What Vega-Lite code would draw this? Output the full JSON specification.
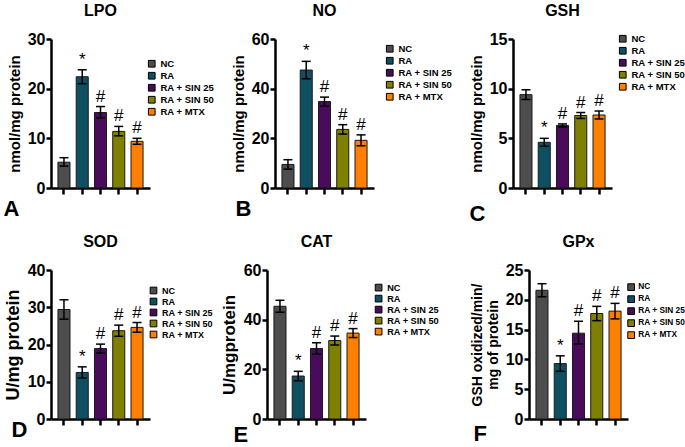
{
  "$schema": "https://vega.github.io/schema/vega-lite/v6.json",
  "padding": {"left": 3, "top": 3, "right": 0, "bottom": 0},
  "datasets": {
    "d": [
      {"panel": "LPO", "group": "NC", "mean": 5.2, "lo": 4.4, "hi": 6.1, "sig": ""},
      {"panel": "LPO", "group": "RA", "mean": 22.4, "lo": 21.0, "hi": 23.8, "sig": "*"},
      {"panel": "LPO", "group": "RA + SIN 25", "mean": 15.2, "lo": 14.1, "hi": 16.4, "sig": "#"},
      {"panel": "LPO", "group": "RA + SIN 50", "mean": 11.4, "lo": 10.5, "hi": 12.4, "sig": "#"},
      {"panel": "LPO", "group": "RA + MTX", "mean": 9.4, "lo": 8.8, "hi": 10.0, "sig": "#"},
      {"panel": "NO", "group": "NC", "mean": 9.5, "lo": 7.6, "hi": 11.4, "sig": ""},
      {"panel": "NO", "group": "RA", "mean": 47.5, "lo": 44.0, "hi": 51.0, "sig": "*"},
      {"panel": "NO", "group": "RA + SIN 25", "mean": 34.8, "lo": 33.0, "hi": 36.6, "sig": "#"},
      {"panel": "NO", "group": "RA + SIN 50", "mean": 23.6, "lo": 21.7, "hi": 25.5, "sig": "#"},
      {"panel": "NO", "group": "RA + MTX", "mean": 19.2, "lo": 17.0, "hi": 21.4, "sig": "#"},
      {"panel": "GSH", "group": "NC", "mean": 9.4, "lo": 8.9, "hi": 9.9, "sig": ""},
      {"panel": "GSH", "group": "RA", "mean": 4.6, "lo": 4.2, "hi": 5.0, "sig": "*"},
      {"panel": "GSH", "group": "RA + SIN 25", "mean": 6.3, "lo": 6.15, "hi": 6.45, "sig": "#"},
      {"panel": "GSH", "group": "RA + SIN 50", "mean": 7.3, "lo": 7.0, "hi": 7.6, "sig": "#"},
      {"panel": "GSH", "group": "RA + MTX", "mean": 7.35, "lo": 6.95, "hi": 7.75, "sig": "#"},
      {"panel": "SOD", "group": "NC", "mean": 29.4, "lo": 26.8, "hi": 32.0, "sig": ""},
      {"panel": "SOD", "group": "RA", "mean": 12.5, "lo": 11.0, "hi": 14.0, "sig": "*"},
      {"panel": "SOD", "group": "RA + SIN 25", "mean": 18.9, "lo": 17.7, "hi": 20.1, "sig": "#"},
      {"panel": "SOD", "group": "RA + SIN 50", "mean": 23.7, "lo": 22.2, "hi": 25.2, "sig": "#"},
      {"panel": "SOD", "group": "RA + MTX", "mean": 24.6, "lo": 23.3, "hi": 25.9, "sig": "#"},
      {"panel": "CAT", "group": "NC", "mean": 45.4, "lo": 43.0, "hi": 47.8, "sig": ""},
      {"panel": "CAT", "group": "RA", "mean": 17.3, "lo": 15.4, "hi": 19.2, "sig": "*"},
      {"panel": "CAT", "group": "RA + SIN 25", "mean": 28.4, "lo": 26.1, "hi": 30.7, "sig": "#"},
      {"panel": "CAT", "group": "RA + SIN 50", "mean": 31.6, "lo": 29.8, "hi": 33.4, "sig": "#"},
      {"panel": "CAT", "group": "RA + MTX", "mean": 34.6, "lo": 32.8, "hi": 36.4, "sig": "#"},
      {"panel": "GPx", "group": "NC", "mean": 21.6, "lo": 20.5, "hi": 22.7, "sig": ""},
      {"panel": "GPx", "group": "RA", "mean": 9.3, "lo": 8.0, "hi": 10.6, "sig": "*"},
      {"panel": "GPx", "group": "RA + SIN 25", "mean": 14.4, "lo": 12.6, "hi": 16.4, "sig": "#"},
      {"panel": "GPx", "group": "RA + SIN 50", "mean": 17.7, "lo": 16.5, "hi": 18.9, "sig": "#"},
      {"panel": "GPx", "group": "RA + MTX", "mean": 18.1, "lo": 16.8, "hi": 19.4, "sig": "#"}
    ]
  },
  "spacing": 10,
  "resolve": {"scale": {"color": "independent", "x": "independent", "y": "independent"}, "legend": {"color": "independent"}},
  "vconcat": [
    {
      "concat": [
        {
          "width": 99, "height": 149,
          "title": "LPO",
          "data": {"name": "d"},
          "transform": [{"filter": "datum.panel === 'LPO'"}],
          "encoding": {"x": {"field": "group", "type": "nominal", "sort": null, "scale": {"paddingInner": 0.34, "paddingOuter": 0.38}, "axis": {"title": "A", "titleX": -48, "titleY": 27}}},
          "layer": [
            {"mark": {"type": "bar", "stroke": "#1a1a1a", "strokeWidth": 1}, "encoding": {"y": {"field": "mean", "type": "quantitative", "scale": {"domain": [0, 30], "nice": false}, "axis": {"values": [0, 10, 20, 30], "title": "nmol/mg protein", "titleFontSize": 15}}, "color": {"field": "group", "type": "nominal", "sort": null, "scale": {"domain": ["NC", "RA", "RA + SIN 25", "RA + SIN 50", "RA + MTX"], "range": ["#4d4d4d", "#0e4f61", "#4a0b5c", "#7f7f00", "#ff8000"]}, "legend": {"title": null, "legendX": 96, "legendY": 20}}}},
            {"mark": {"type": "rule", "strokeWidth": 1.5, "color": "#000"}, "encoding": {"y": {"field": "lo", "type": "quantitative", "scale": {"domain": [0, 30], "nice": false}, "axis": {"values": [0, 10, 20, 30], "title": "nmol/mg protein", "titleFontSize": 15}}, "y2": {"field": "hi"}}},
            {"mark": {"type": "tick", "size": 9, "thickness": 1.5, "color": "#000", "opacity": 1}, "encoding": {"y": {"field": "lo", "type": "quantitative", "scale": {"domain": [0, 30], "nice": false}, "axis": {"values": [0, 10, 20, 30], "title": "nmol/mg protein", "titleFontSize": 15}}}},
            {"mark": {"type": "tick", "size": 9, "thickness": 1.5, "color": "#000", "opacity": 1}, "encoding": {"y": {"field": "hi", "type": "quantitative", "scale": {"domain": [0, 30], "nice": false}, "axis": {"values": [0, 10, 20, 30], "title": "nmol/mg protein", "titleFontSize": 15}}}},
            {"mark": {"type": "text", "fontSize": 17, "dy": -5, "baseline": "alphabetic", "font": "Liberation Sans", "color": "#000"}, "encoding": {"y": {"field": "hi", "type": "quantitative", "scale": {"domain": [0, 30], "nice": false}, "axis": {"values": [0, 10, 20, 30], "title": "nmol/mg protein", "titleFontSize": 15}}, "text": {"field": "sig"}}}
          ]
        },
        {
          "width": 99, "height": 149,
          "title": "NO",
          "data": {"name": "d"},
          "transform": [{"filter": "datum.panel === 'NO'"}],
          "encoding": {"x": {"field": "group", "type": "nominal", "sort": null, "scale": {"paddingInner": 0.34, "paddingOuter": 0.38}, "axis": {"title": "B", "titleX": -40, "titleY": 27}}},
          "layer": [
            {"mark": {"type": "bar", "stroke": "#1a1a1a", "strokeWidth": 1}, "encoding": {"y": {"field": "mean", "type": "quantitative", "scale": {"domain": [0, 60], "nice": false}, "axis": {"values": [0, 20, 40, 60], "title": "nmol/mg protein", "titleFontSize": 15}}, "color": {"field": "group", "type": "nominal", "sort": null, "scale": {"domain": ["NC", "RA", "RA + SIN 25", "RA + SIN 50", "RA + MTX"], "range": ["#4d4d4d", "#0e4f61", "#4a0b5c", "#7f7f00", "#ff8000"]}, "legend": {"title": null, "legendX": 110, "legendY": 5}}}},
            {"mark": {"type": "rule", "strokeWidth": 1.5, "color": "#000"}, "encoding": {"y": {"field": "lo", "type": "quantitative", "scale": {"domain": [0, 60], "nice": false}, "axis": {"values": [0, 20, 40, 60], "title": "nmol/mg protein", "titleFontSize": 15}}, "y2": {"field": "hi"}}},
            {"mark": {"type": "tick", "size": 9, "thickness": 1.5, "color": "#000", "opacity": 1}, "encoding": {"y": {"field": "lo", "type": "quantitative", "scale": {"domain": [0, 60], "nice": false}, "axis": {"values": [0, 20, 40, 60], "title": "nmol/mg protein", "titleFontSize": 15}}}},
            {"mark": {"type": "tick", "size": 9, "thickness": 1.5, "color": "#000", "opacity": 1}, "encoding": {"y": {"field": "hi", "type": "quantitative", "scale": {"domain": [0, 60], "nice": false}, "axis": {"values": [0, 20, 40, 60], "title": "nmol/mg protein", "titleFontSize": 15}}}},
            {"mark": {"type": "text", "fontSize": 17, "dy": -5, "baseline": "alphabetic", "font": "Liberation Sans", "color": "#000"}, "encoding": {"y": {"field": "hi", "type": "quantitative", "scale": {"domain": [0, 60], "nice": false}, "axis": {"values": [0, 20, 40, 60], "title": "nmol/mg protein", "titleFontSize": 15}}, "text": {"field": "sig"}}}
          ]
        },
        {
          "width": 99, "height": 149,
          "title": "GSH",
          "data": {"name": "d"},
          "transform": [{"filter": "datum.panel === 'GSH'"}],
          "encoding": {"x": {"field": "group", "type": "nominal", "sort": null, "scale": {"paddingInner": 0.34, "paddingOuter": 0.38}, "axis": {"title": "C", "titleX": -44, "titleY": 32}}},
          "layer": [
            {"mark": {"type": "bar", "stroke": "#1a1a1a", "strokeWidth": 1}, "encoding": {"y": {"field": "mean", "type": "quantitative", "scale": {"domain": [0, 15], "nice": false}, "axis": {"values": [0, 5, 10, 15], "title": "nmol/mg protein", "titleFontSize": 15}}, "color": {"field": "group", "type": "nominal", "sort": null, "scale": {"domain": ["NC", "RA", "RA + SIN 25", "RA + SIN 50", "RA + MTX"], "range": ["#4d4d4d", "#0e4f61", "#4a0b5c", "#7f7f00", "#ff8000"]}, "legend": {"title": null, "legendX": 105, "legendY": -5}}}},
            {"mark": {"type": "rule", "strokeWidth": 1.5, "color": "#000"}, "encoding": {"y": {"field": "lo", "type": "quantitative", "scale": {"domain": [0, 15], "nice": false}, "axis": {"values": [0, 5, 10, 15], "title": "nmol/mg protein", "titleFontSize": 15}}, "y2": {"field": "hi"}}},
            {"mark": {"type": "tick", "size": 9, "thickness": 1.5, "color": "#000", "opacity": 1}, "encoding": {"y": {"field": "lo", "type": "quantitative", "scale": {"domain": [0, 15], "nice": false}, "axis": {"values": [0, 5, 10, 15], "title": "nmol/mg protein", "titleFontSize": 15}}}},
            {"mark": {"type": "tick", "size": 9, "thickness": 1.5, "color": "#000", "opacity": 1}, "encoding": {"y": {"field": "hi", "type": "quantitative", "scale": {"domain": [0, 15], "nice": false}, "axis": {"values": [0, 5, 10, 15], "title": "nmol/mg protein", "titleFontSize": 15}}}},
            {"mark": {"type": "text", "fontSize": 17, "dy": -5, "baseline": "alphabetic", "font": "Liberation Sans", "color": "#000"}, "encoding": {"y": {"field": "hi", "type": "quantitative", "scale": {"domain": [0, 15], "nice": false}, "axis": {"values": [0, 5, 10, 15], "title": "nmol/mg protein", "titleFontSize": 15}}, "text": {"field": "sig"}}}
          ]
        }
      ],
      "columns": 3,
      "align": "none",
      "spacing": 16,
      "resolve": {"scale": {"color": "independent", "x": "independent", "y": "independent"}, "legend": {"color": "independent"}}
    },
    {
      "concat": [
        {
          "width": 99, "height": 149,
          "title": "SOD",
          "data": {"name": "d"},
          "transform": [{"filter": "datum.panel === 'SOD'"}],
          "encoding": {"x": {"field": "group", "type": "nominal", "sort": null, "scale": {"paddingInner": 0.34, "paddingOuter": 0.38}, "axis": {"title": "D", "titleX": -40, "titleY": 17}}},
          "layer": [
            {"mark": {"type": "bar", "stroke": "#1a1a1a", "strokeWidth": 1}, "encoding": {"y": {"field": "mean", "type": "quantitative", "scale": {"domain": [0, 40], "nice": false}, "axis": {"values": [0, 10, 20, 30, 40], "title": "U/mg protein", "titleFontSize": 18}}, "color": {"field": "group", "type": "nominal", "sort": null, "scale": {"domain": ["NC", "RA", "RA + SIN 25", "RA + SIN 50", "RA + MTX"], "range": ["#4d4d4d", "#0e4f61", "#4a0b5c", "#7f7f00", "#ff8000"]}, "legend": {"title": null, "legendX": 98, "legendY": 16, "labelFontSize": 9}}}},
            {"mark": {"type": "rule", "strokeWidth": 1.5, "color": "#000"}, "encoding": {"y": {"field": "lo", "type": "quantitative", "scale": {"domain": [0, 40], "nice": false}, "axis": {"values": [0, 10, 20, 30, 40], "title": "U/mg protein", "titleFontSize": 18}}, "y2": {"field": "hi"}}},
            {"mark": {"type": "tick", "size": 9, "thickness": 1.5, "color": "#000", "opacity": 1}, "encoding": {"y": {"field": "lo", "type": "quantitative", "scale": {"domain": [0, 40], "nice": false}, "axis": {"values": [0, 10, 20, 30, 40], "title": "U/mg protein", "titleFontSize": 18}}}},
            {"mark": {"type": "tick", "size": 9, "thickness": 1.5, "color": "#000", "opacity": 1}, "encoding": {"y": {"field": "hi", "type": "quantitative", "scale": {"domain": [0, 40], "nice": false}, "axis": {"values": [0, 10, 20, 30, 40], "title": "U/mg protein", "titleFontSize": 18}}}},
            {"mark": {"type": "text", "fontSize": 17, "dy": -5, "baseline": "alphabetic", "font": "Liberation Sans", "color": "#000"}, "encoding": {"y": {"field": "hi", "type": "quantitative", "scale": {"domain": [0, 40], "nice": false}, "axis": {"values": [0, 10, 20, 30, 40], "title": "U/mg protein", "titleFontSize": 18}}, "text": {"field": "sig"}}}
          ]
        },
        {
          "concat": [
            {
              "width": 99, "height": 149,
              "title": "CAT",
              "data": {"name": "d"},
              "transform": [{"filter": "datum.panel === 'CAT'"}],
              "encoding": {"x": {"field": "group", "type": "nominal", "sort": null, "scale": {"paddingInner": 0.34, "paddingOuter": 0.38}, "axis": {"title": "E", "titleX": -34, "titleY": 22}}},
              "layer": [
                {"mark": {"type": "bar", "stroke": "#1a1a1a", "strokeWidth": 1}, "encoding": {"y": {"field": "mean", "type": "quantitative", "scale": {"domain": [0, 60], "nice": false}, "axis": {"values": [0, 20, 40, 60], "title": "U/mgprotein", "titleFontSize": 17}}, "color": {"field": "group", "type": "nominal", "sort": null, "scale": {"domain": ["NC", "RA", "RA + SIN 25", "RA + SIN 50", "RA + MTX"], "range": ["#4d4d4d", "#0e4f61", "#4a0b5c", "#7f7f00", "#ff8000"]}, "legend": {"title": null, "legendX": 107, "legendY": 13, "labelFontSize": 9.2}}}},
                {"mark": {"type": "rule", "strokeWidth": 1.5, "color": "#000"}, "encoding": {"y": {"field": "lo", "type": "quantitative", "scale": {"domain": [0, 60], "nice": false}, "axis": {"values": [0, 20, 40, 60], "title": "U/mgprotein", "titleFontSize": 17}}, "y2": {"field": "hi"}}},
                {"mark": {"type": "tick", "size": 9, "thickness": 1.5, "color": "#000", "opacity": 1}, "encoding": {"y": {"field": "lo", "type": "quantitative", "scale": {"domain": [0, 60], "nice": false}, "axis": {"values": [0, 20, 40, 60], "title": "U/mgprotein", "titleFontSize": 17}}}},
                {"mark": {"type": "tick", "size": 9, "thickness": 1.5, "color": "#000", "opacity": 1}, "encoding": {"y": {"field": "hi", "type": "quantitative", "scale": {"domain": [0, 60], "nice": false}, "axis": {"values": [0, 20, 40, 60], "title": "U/mgprotein", "titleFontSize": 17}}}},
                {"mark": {"type": "text", "fontSize": 17, "dy": -5, "baseline": "alphabetic", "font": "Liberation Sans", "color": "#000"}, "encoding": {"y": {"field": "hi", "type": "quantitative", "scale": {"domain": [0, 60], "nice": false}, "axis": {"values": [0, 20, 40, 60], "title": "U/mgprotein", "titleFontSize": 17}}, "text": {"field": "sig"}}}
              ]
            },
            {
              "width": 99, "height": 149,
              "title": "GPx",
              "data": {"name": "d"},
              "transform": [{"filter": "datum.panel === 'GPx'"}],
              "encoding": {"x": {"field": "group", "type": "nominal", "sort": null, "scale": {"paddingInner": 0.34, "paddingOuter": 0.38}, "axis": {"title": "F", "titleX": -56, "titleY": 21}}},
              "layer": [
                {"mark": {"type": "bar", "stroke": "#1a1a1a", "strokeWidth": 1}, "encoding": {"y": {"field": "mean", "type": "quantitative", "scale": {"domain": [0, 25], "nice": false}, "axis": {"values": [0, 5, 10, 15, 20, 25], "title": ["GSH oxidized/min/", "mg of protein"], "titleFontSize": 14, "titleLineHeight": 16}}, "color": {"field": "group", "type": "nominal", "sort": null, "scale": {"domain": ["NC", "RA", "RA + SIN 25", "RA + SIN 50", "RA + MTX"], "range": ["#4d4d4d", "#0e4f61", "#4a0b5c", "#7f7f00", "#ff8000"]}, "legend": {"title": null, "legendX": 98, "legendY": 13, "labelFontSize": 8.3, "labelOffset": 3}}}},
                {"mark": {"type": "rule", "strokeWidth": 1.5, "color": "#000"}, "encoding": {"y": {"field": "lo", "type": "quantitative", "scale": {"domain": [0, 25], "nice": false}, "axis": {"values": [0, 5, 10, 15, 20, 25], "title": ["GSH oxidized/min/", "mg of protein"], "titleFontSize": 14, "titleLineHeight": 16}}, "y2": {"field": "hi"}}},
                {"mark": {"type": "tick", "size": 9, "thickness": 1.5, "color": "#000", "opacity": 1}, "encoding": {"y": {"field": "lo", "type": "quantitative", "scale": {"domain": [0, 25], "nice": false}, "axis": {"values": [0, 5, 10, 15, 20, 25], "title": ["GSH oxidized/min/", "mg of protein"], "titleFontSize": 14, "titleLineHeight": 16}}}},
                {"mark": {"type": "tick", "size": 9, "thickness": 1.5, "color": "#000", "opacity": 1}, "encoding": {"y": {"field": "hi", "type": "quantitative", "scale": {"domain": [0, 25], "nice": false}, "axis": {"values": [0, 5, 10, 15, 20, 25], "title": ["GSH oxidized/min/", "mg of protein"], "titleFontSize": 14, "titleLineHeight": 16}}}},
                {"mark": {"type": "text", "fontSize": 17, "dy": -5, "baseline": "alphabetic", "font": "Liberation Sans", "color": "#000"}, "encoding": {"y": {"field": "hi", "type": "quantitative", "scale": {"domain": [0, 25], "nice": false}, "axis": {"values": [0, 5, 10, 15, 20, 25], "title": ["GSH oxidized/min/", "mg of protein"], "titleFontSize": 14, "titleLineHeight": 16}}, "text": {"field": "sig"}}}
              ]
            }
          ],
          "columns": 2,
          "align": "none",
          "spacing": 30,
          "resolve": {"scale": {"color": "independent", "x": "independent", "y": "independent"}, "legend": {"color": "independent"}}
        }
      ],
      "columns": 2,
      "align": "none",
      "spacing": 7,
      "resolve": {"scale": {"color": "independent", "x": "independent", "y": "independent"}, "legend": {"color": "independent"}}
    }
  ],
  "config": {
    "view": {"stroke": null},
    "font": "Liberation Sans",
    "title": {"font": "Liberation Sans", "fontSize": 16, "fontWeight": "bold", "color": "#000", "offset": 12, "anchor": "middle"},
    "axis": {"grid": false, "domainColor": "#000", "domainWidth": 2.5, "tickColor": "#000", "tickWidth": 2.5, "tickSize": 5, "labelFont": "Liberation Sans", "labelFontWeight": "bold", "labelFontSize": 16, "labelColor": "#000", "labelPadding": 1, "titleFont": "Liberation Sans", "titleFontWeight": "bold", "titleColor": "#000"},
    "axisX": {"labels": false, "tickSize": 6, "titleFontSize": 22, "titleAlign": "left", "titleBaseline": "alphabetic", "titleAngle": 0},
    "axisY": {"titlePadding": 5},
    "legend": {"orient": "none", "symbolType": "square", "symbolSize": 45, "symbolStrokeColor": "#000", "symbolStrokeWidth": 1, "symbolOpacity": 1, "labelFont": "Liberation Sans", "labelFontSize": 9.5, "labelFontWeight": "bold", "labelColor": "#000", "labelOffset": 4, "rowPadding": 0, "padding": 0}
  }
}
